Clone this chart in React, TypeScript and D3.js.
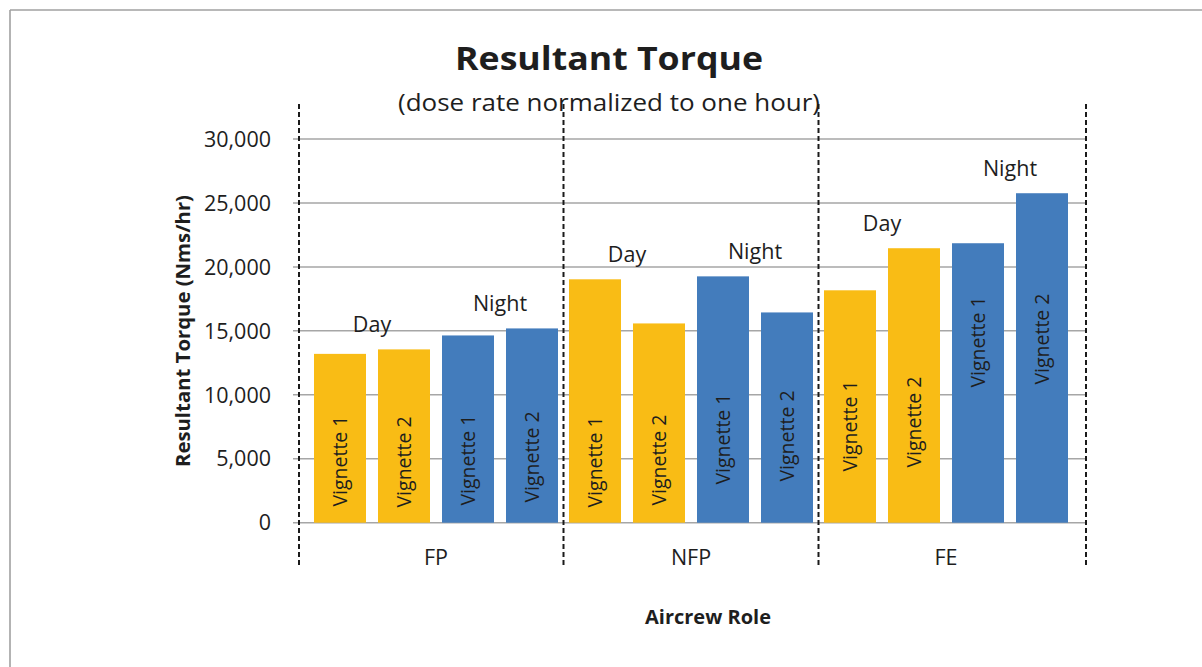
import React from "react";
import * as d3 from "d3";

const roles = ["FP", "NFP", "FE"];
const seriesKeys = ["dayV1", "dayV2", "nightV1", "nightV2"];
const seriesLabels = ["Vignette 1", "Vignette 2", "Vignette 1", "Vignette 2"];
const seriesPeriod = ["Day", "Day", "Night", "Night"];
const dayV1 = [13200, 19030, 18170];
const dayV2 = [13550, 15580, 21460];
const nightV1 = [14640, 19260, 21850];
const nightV2 = [15190, 16440, 25760];
// value (in Nms/hr) at which each in-bar label is centred
const labelAtDayV1 = [4820, 4750, 7560];
const labelAtDayV2 = [4750, 4900, 7870];
const labelAtNightV1 = [4900, 6540, 14130];
const labelAtNightV2 = [5140, 6780, 14360];
const yTicks = [0, 5000, 10000, 15000, 20000, 25000, 30000];

const values: Record<string, number[]> = { dayV1, dayV2, nightV1, nightV2 };
const labelAt: Record<string, number[]> = {
  dayV1: labelAtDayV1,
  dayV2: labelAtDayV2,
  nightV1: labelAtNightV1,
  nightV2: labelAtNightV2,
};

const W = 1202;
const H = 667;
const plotLeft = 297;
const plotRight = 1087;
const plotTop = 139;
const plotBottom = 522.7;
const FONT = "'Open Sans', sans-serif";
const TEXT = "#1e1e1e";
const YELLOW = "#F9BC15";
const BLUE = "#437CBC";

export default function App() {
  const y = d3.scaleLinear().domain([0, 30000]).range([plotBottom, plotTop]);
  const x0 = d3.scaleBand<string>().domain(roles).range([308.5, 1073.5]).padding(0);
  const inner = 244;
  const x1 = d3
    .scaleBand<string>()
    .domain(seriesKeys)
    .range([0, inner])
    .paddingInner(12 / 64)
    .paddingOuter(0);
  const catOffset = (x0.bandwidth() - inner) / 2;
  const fmt = d3.format(",");

  const separators: number[] = [plotLeft + 2];
  roles.slice(1).forEach((r, i) => {
    const prevEnd = x0(roles[i])! + catOffset + x1(seriesKeys[3])! + x1.bandwidth();
    const nextStart = x0(r)! + catOffset + x1(seriesKeys[0])!;
    separators.push((prevEnd + nextStart) / 2);
  });
  separators.push(plotRight - 1);

  return (
    <svg
      width={W}
      height={H}
      style={{ position: "absolute", left: 0, top: 0, background: "#fff" }}
      fontFamily={FONT}
    >
      <rect x={0} y={0} width={W} height={H} fill="#fff" />
      {/* frame */}
      <line x1={10} y1={10} x2={W} y2={10} stroke="#a0a0a0" strokeWidth={1.6} />
      <line x1={10} y1={10} x2={10} y2={H} stroke="#a0a0a0" strokeWidth={1.6} />

      {/* title */}
      <text
        x={609}
        y={70}
        textAnchor="middle"
        fontSize={33}
        fontWeight={700}
        fill={TEXT}
        textLength={308}
        lengthAdjust="spacingAndGlyphs"
      >
        Resultant Torque
      </text>
      <text
        x={609}
        y={111}
        textAnchor="middle"
        fontSize={23.5}
        fill={TEXT}
        textLength={422}
        lengthAdjust="spacingAndGlyphs"
      >
        (dose rate normalized to one hour)
      </text>

      {/* grid */}
      {yTicks.map((t) => (
        <g key={t}>
          <line x1={plotLeft - 4} x2={plotRight} y1={y(t)} y2={y(t)} stroke="#a6a6a6" strokeWidth={1.5} />
          <text x={271} y={y(t)} dy="0.36em" textAnchor="end" fontSize={21.5} fill={TEXT}>
            {fmt(t)}
          </text>
        </g>
      ))}

      {/* bars */}
      {roles.map((r, ri) => (
        <g key={r} transform={`translate(${x0(r)! + catOffset},0)`}>
          {seriesKeys.map((k, si) => {
            const v = values[k][ri];
            const bx = x1(k)!;
            const cx = bx + x1.bandwidth() / 2;
            const ly = y(labelAt[k][ri]);
            return (
              <g key={k}>
                <rect
                  x={bx}
                  y={y(v)}
                  width={x1.bandwidth()}
                  height={plotBottom - y(v)}
                  fill={seriesPeriod[si] === "Day" ? YELLOW : BLUE}
                />
                <text
                  transform={`translate(${cx},${ly}) rotate(-90)`}
                  textAnchor="middle"
                  dy="0.35em"
                  fontSize={19.5}
                  fill={TEXT}
                >
                  {seriesLabels[si]}
                </text>
              </g>
            );
          })}
          {["Day", "Night"].map((p) => {
            const ks = seriesKeys.filter((_, i) => seriesPeriod[i] === p);
            const left = x1(ks[0])!;
            const right = x1(ks[ks.length - 1])! + x1.bandwidth();
            const top = d3.max(ks, (k) => values[k][ri])!;
            return (
              <text
                key={p}
                x={(left + right) / 2}
                y={y(top) - 17}
                textAnchor="middle"
                fontSize={21.5}
                fill={TEXT}
              >
                {p}
              </text>
            );
          })}
          <text x={inner / 2} y={565} textAnchor="middle" fontSize={21.5} fill={TEXT}>
            {r}
          </text>
        </g>
      ))}

      {/* dashed separators */}
      {separators.map((sx, i) => (
        <line
          key={i}
          x1={sx}
          x2={sx}
          y1={104}
          y2={565}
          stroke="#1a1a1a"
          strokeWidth={2}
          strokeDasharray="5,3"
        />
      ))}

      {/* axis titles */}
      <text x={708} y={624} textAnchor="middle" fontSize={20} fontWeight={700} fill={TEXT}>
        Aircrew Role
      </text>
      <text
        transform={`translate(190,331) rotate(-90)`}
        textAnchor="middle"
        fontSize={19.5}
        fontWeight={700}
        fill={TEXT}
        textLength={272}
        lengthAdjust="spacingAndGlyphs"
      >
        Resultant Torque (Nms/hr)
      </text>
    </svg>
  );
}
